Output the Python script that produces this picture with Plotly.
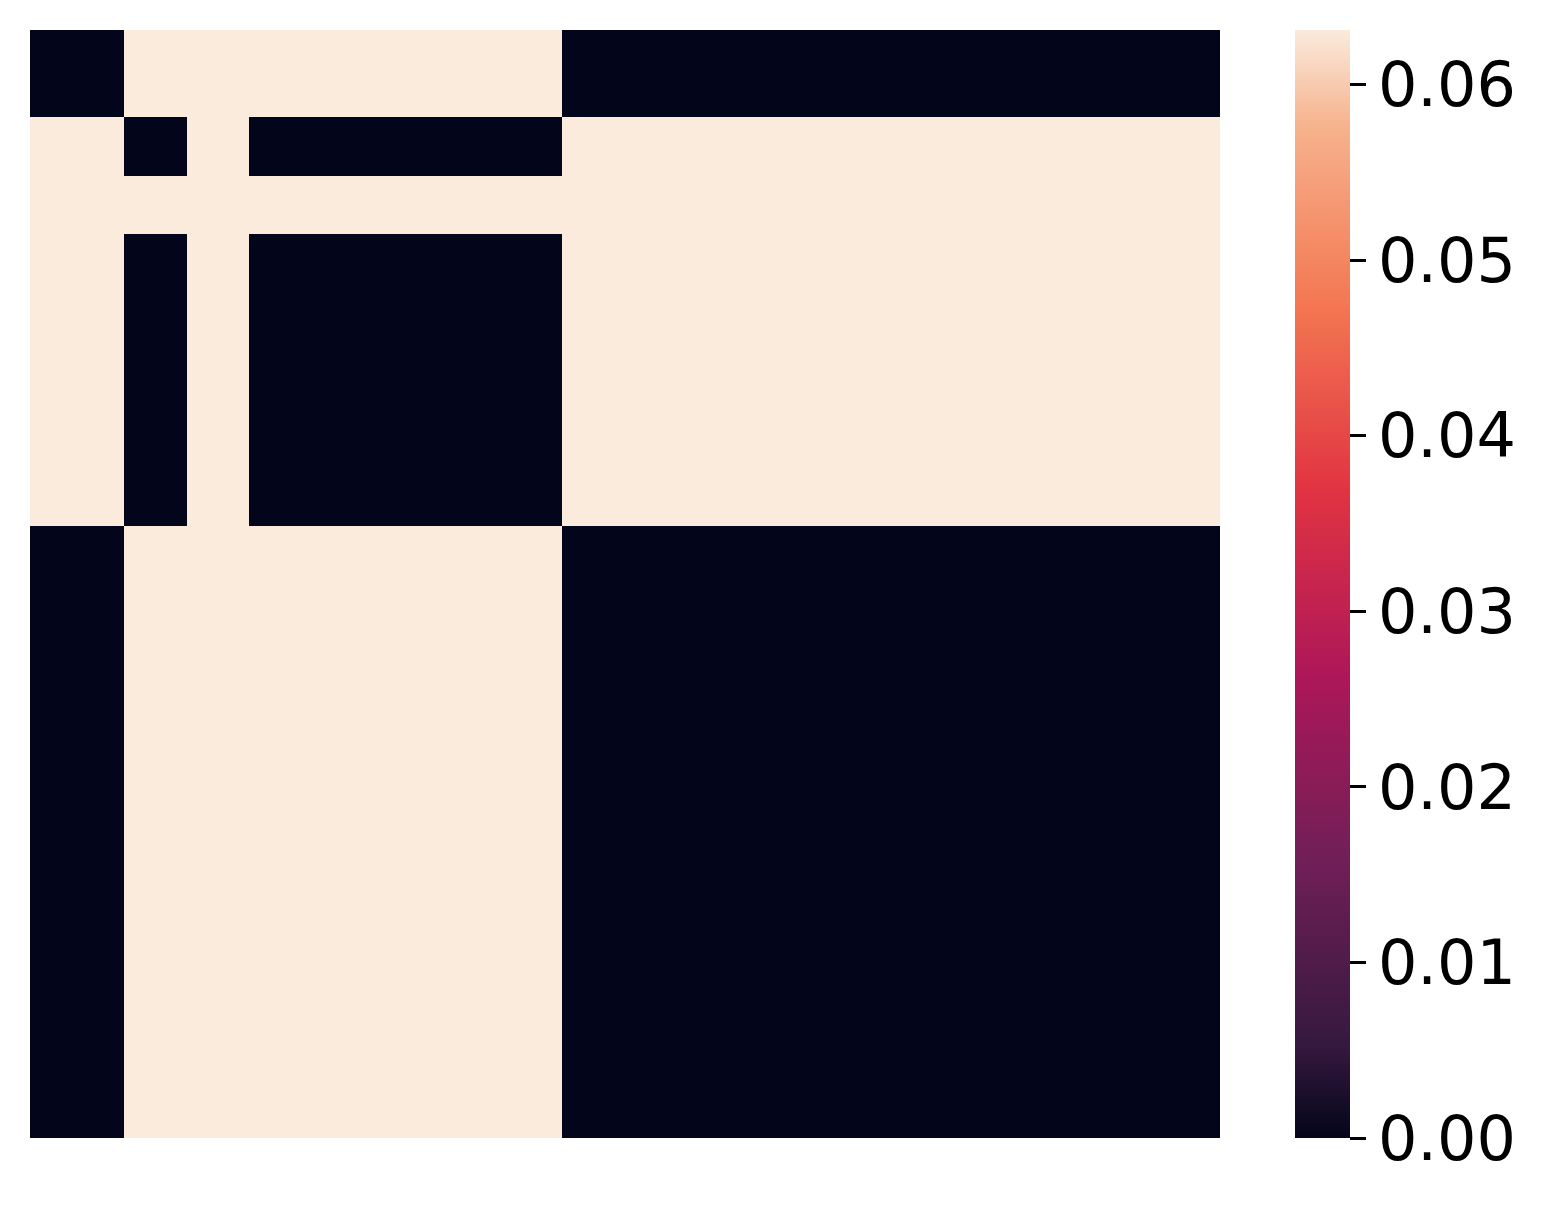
import numpy as np
import plotly.graph_objects as go

# Block structure of the 38x38 matrix (row/column groups)
group_sizes = [3, 2, 2, 10, 21]
HI = 0.0631
LO = 0.0
# Block values (group x group)
block_values = [
    [LO, HI, HI, HI, LO],
    [HI, LO, HI, LO, HI],
    [HI, HI, HI, HI, HI],
    [HI, LO, HI, LO, HI],
    [LO, HI, HI, HI, LO],
]
tick_vals = [0.00, 0.01, 0.02, 0.03, 0.04, 0.05, 0.06]
tick_text = ["0.00", "0.01", "0.02", "0.03", "0.04", "0.05", "0.06"]

idx = np.repeat(np.arange(len(group_sizes)), group_sizes)
bv = np.array(block_values)
z = bv[np.ix_(idx, idx)]

rocket = [
    [0.0, "#03051A"],
    [0.0833, "#35193E"],
    [0.25, "#701F57"],
    [0.4167, "#AD1759"],
    [0.5833, "#E13342"],
    [0.75, "#F37651"],
    [0.9167, "#F6B48F"],
    [1.0, "#FAEBDD"],
]

fig = go.Figure(go.Heatmap(
    z=z,
    colorscale=rocket,
    zmin=0, zmax=HI,
    colorbar=dict(
        thickness=55, thicknessmode="pixels",
        len=1, lenmode="fraction",
        x=(1295 - 30) / 1190, xanchor="left", xpad=0,
        y=1, yanchor="top", ypad=0,
        outlinewidth=0,
        tickvals=tick_vals, ticktext=tick_text,
        ticks="outside", ticklen=16, tickwidth=2.5, tickcolor="black",
        tickfont=dict(family="DejaVu Sans", size=62, color="black"),
    ),
    hoverinfo="skip",
))

n = len(idx)
fig.update_xaxes(visible=False, range=[-0.5, n - 0.5])
fig.update_yaxes(visible=False, range=[n - 0.5, -0.5])
fig.update_layout(
    width=1548, height=1205,
    margin=dict(l=22, r=336, t=22, b=75),
    paper_bgcolor="white", plot_bgcolor="white",
)
fig.write_html("out.html")
